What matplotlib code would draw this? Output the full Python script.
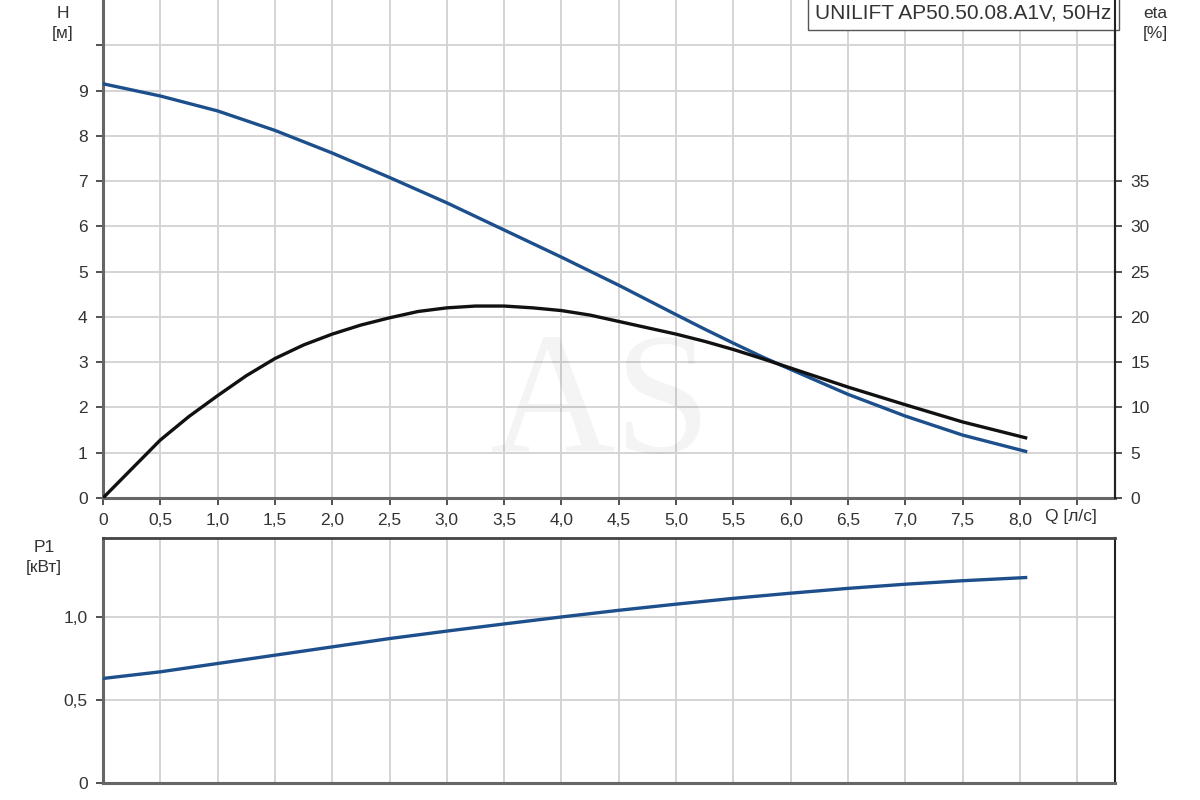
import matplotlib

matplotlib.use("Agg")
import matplotlib.pyplot as plt
from matplotlib.ticker import FixedLocator, FuncFormatter

plt.rcParams["font.family"] = ["Liberation Sans", "DejaVu Sans"]

# Flow Q [l/s] and head H [m]
Q_H = [0.0, 0.5, 1.0, 1.5, 2.0, 2.5, 3.0, 3.5, 4.0, 4.5, 5.0, 5.25, 5.5, 5.75, 6.0, 6.5,
       7.0, 7.5, 8.05]
H = [9.15, 8.88, 8.55, 8.12, 7.62, 7.08, 6.52, 5.92, 5.32, 4.70, 4.05, 3.73, 3.42, 3.12,
     2.84, 2.29, 1.81, 1.39, 1.03]
# Efficiency eta [%]
Q_ETA = [0.0, 0.25, 0.5, 0.75, 1.0, 1.25, 1.5, 1.75, 2.0, 2.25, 2.5, 2.75, 3.0, 3.25, 3.5,
         3.75, 4.0, 4.25, 4.5, 4.75, 5.0, 5.25, 5.5, 5.75, 6.0, 6.5, 7.0, 7.5, 8.05]
ETA = [0.0, 3.2, 6.4, 9.0, 11.3, 13.5, 15.4, 16.9, 18.1, 19.1, 19.9, 20.6, 21.0, 21.2, 21.2,
       21.0, 20.7, 20.2, 19.5, 18.8, 18.1, 17.3, 16.4, 15.4, 14.35, 12.25, 10.3, 8.4, 6.65]
# Power P1 [kW]
Q_P = [0.0, 0.5, 1.0, 1.5, 2.0, 2.5, 3.0, 3.5, 4.0, 4.5, 5.0, 5.5, 6.0, 6.5, 7.0, 7.5, 8.05]
P1 = [0.63, 0.67, 0.72, 0.77, 0.82, 0.87, 0.915, 0.958, 1.0, 1.04, 1.077, 1.112, 1.143, 1.172, 1.197, 1.218, 1.237]

BLUE, BLACK, GRID, TXT = "#1d4f8c", "#111111", "#d4d4d4", "#333333"
TITLE = "UNILIFT AP50.50.08.A1V, 50Hz"
FS = 12.5


def comma(v, _pos=None):
    if abs(v) < 1e-9:
        return "0"
    return f"{v:.1f}".replace(".", ",")


def style(ax):
    ax.grid(True, color=GRID, lw=1.4)
    ax.set_axisbelow(True)
    for s in ("left", "bottom"):
        ax.spines[s].set_color("#666666")
        ax.spines[s].set_linewidth(2.2)
    ax.spines["top"].set_color("#444444")
    ax.spines["right"].set_color("#222222")
    ax.spines["right"].set_linewidth(1.5)
    ax.tick_params(colors=TXT, labelsize=FS, length=5, width=1.2, pad=6,
                   direction="out", labelcolor=TXT)


fig = plt.figure(figsize=(12, 8), dpi=100)
ax = fig.add_axes([0.0858, 0.3775, 0.9292 - 0.0858, 0.6225])
ax2 = ax.twinx()
axp = fig.add_axes([0.0858, 0.021, 0.9292 - 0.0858, 0.3065])

xmax = 8.83
xt = [i * 0.5 for i in range(18)]

# watermark
fig.text(0.5, 0.487, "AS", ha="center", va="center", fontsize=125,
         family="Liberation Serif", color="#000000", alpha=0.045, zorder=0)

# Top: head and efficiency
ax.plot(Q_H, H, color=BLUE, lw=2.4, zorder=3)
ax2.plot(Q_ETA, ETA, color=BLACK, lw=2.4, zorder=3)
ax.set_xlim(0, xmax)
ax.set_ylim(0, 11)
ax2.set_ylim(0, 55)
ax.xaxis.set_major_locator(FixedLocator(xt))
ax.xaxis.set_major_formatter(FuncFormatter(lambda v, p: "" if v > 8.2 else comma(v)))
ax.yaxis.set_major_locator(FixedLocator(range(0, 11)))
ax.yaxis.set_major_formatter(FuncFormatter(lambda v, p: "" if v >= 10 else f"{int(v)}"))
ax2.yaxis.set_major_locator(FixedLocator(range(0, 40, 5)))
ax2.yaxis.set_major_formatter(FuncFormatter(lambda v, p: f"{int(v)}"))
style(ax)
ax.spines["top"].set_visible(False)
ax.patch.set_alpha(0)
ax2.spines["right"].set_color("#222222")
ax2.spines["right"].set_linewidth(1.5)
for s in ("left", "bottom", "top"):
    ax2.spines[s].set_visible(False)
ax2.tick_params(colors=TXT, labelsize=FS, length=5, width=1.2, pad=6, direction="out")

ax.text(-0.04, 0.987, "H\n[м]", transform=ax.transAxes, ha="center", va="top",
        fontsize=FS, color=TXT, linespacing=1.4)
ax.text(1.04, 0.987, "eta\n[%]", transform=ax.transAxes, ha="center", va="top",
        fontsize=FS, color=TXT, linespacing=1.4)
ax.text(8.22, -0.25, "Q [л/с]", ha="left", va="top", fontsize=FS, color=TXT)
ax.text(0.9965, 0.993, TITLE, transform=ax.transAxes, ha="right", va="top",
        fontsize=15, color=TXT, zorder=5,
        bbox=dict(boxstyle="square,pad=0.35", fc="white", ec="#555555", lw=1.0))

# Bottom: power
axp.plot(Q_P, P1, color=BLUE, lw=2.4, zorder=3)
axp.set_xlim(0, xmax)
axp.set_ylim(0, 1.475)
axp.xaxis.set_major_locator(FixedLocator(xt))
axp.yaxis.set_major_locator(FixedLocator([0, 0.5, 1.0]))
axp.yaxis.set_major_formatter(FuncFormatter(comma))
style(axp)
axp.patch.set_alpha(0)
axp.tick_params(axis="x", length=0, labelbottom=False)
axp.spines["top"].set_linewidth(2.0)
axp.text(-0.058, 0.99, "P1\n[кВт]", transform=axp.transAxes, ha="center", va="top",
         fontsize=FS, color=TXT, linespacing=1.4)

fig.savefig("out.png", dpi=100)
plt.close(fig)
